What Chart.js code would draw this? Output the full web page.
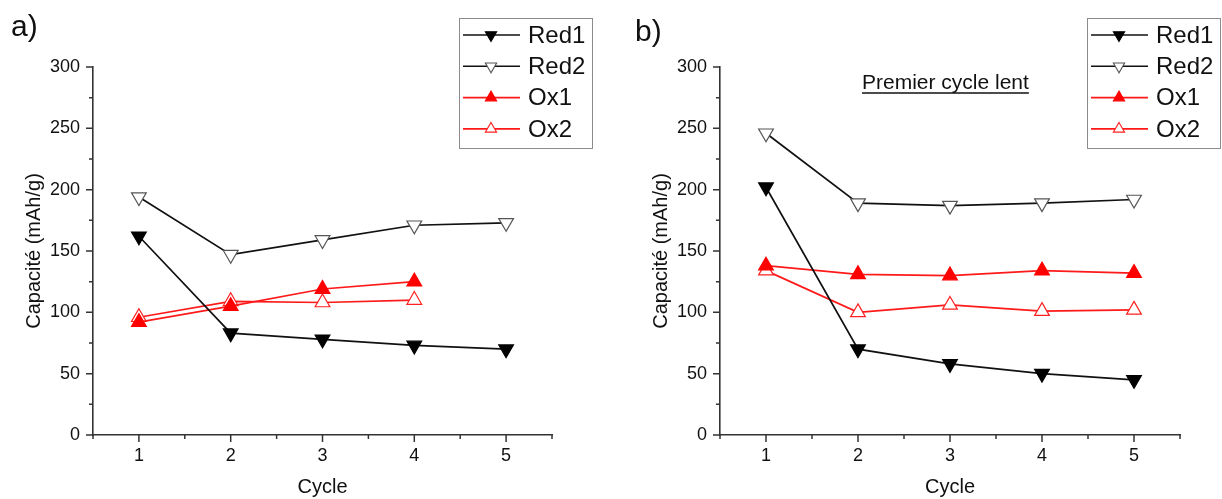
<!DOCTYPE html>
<html>
<head>
<meta charset="utf-8">
<script src="https://cdn.jsdelivr.net/npm/chart.js@4.4.6/dist/chart.umd.min.js"></script>
<style>
  body { margin: 0; background: #fff; }
  #wrap { position: relative; width: 1222px; height: 499px; }
  canvas { position: absolute; top: 0; }
</style>
</head>
<body>
<div id="wrap">
  <canvas id="panelA" width="611" height="499" style="left:0"></canvas>
  <canvas id="panelB" width="611" height="499" style="left:611px"></canvas>
</div>
<script>
// values
const cycles = [1, 2, 3, 4, 5];
const seriesNames = ['Red1', 'Red2', 'Ox1', 'Ox2'];

const red1A = [162, 83, 78, 73, 70];
const red2A = [194, 147, 159, 171, 173];
const ox1A = [92, 105, 119, 125];
const ox2A = [96, 109, 108, 110];

const red1B = [202, 70, 58, 50, 45];
const red2B = [246, 189, 187, 189, 192];
const ox1B = [138, 131, 130, 134, 132];
const ox2B = [134, 100, 106, 101, 102];

const xTickLabels = ['1', '2', '3', '4', '5'];
const yTickLabels = ['0', '50', '100', '150', '200', '250', '300'];

const FONT = "'Liberation Sans', Arial, sans-serif";
const INK = '#111';
const AXIS = '#333';

const looks = {
  Red1: { line: '#111', fill: '#000', edge: '#000', down: true },
  Red2: { line: '#111', fill: '#fff', edge: '#555', down: true },
  Ox1: { line: '#ff1a1a', fill: '#ff0000', edge: '#ff0000', down: false },
  Ox2: { line: '#ff1a1a', fill: '#fff', edge: '#ff2020', down: false }
};

function datasetFor(name, values) {
  const s = looks[name];
  return {
    label: name,
    data: values.map((v, i) => ({ x: cycles[i], y: v })),
    borderColor: s.line,
    borderWidth: 1.7,
    tension: 0,
    pointStyle: 'triangle',
    pointRotation: s.down ? 180 : 0,
    pointRadius: 8.5,
    pointHoverRadius: 8.5,
    pointBackgroundColor: s.fill,
    pointBorderColor: s.edge,
    pointBorderWidth: 1.2
  };
}

function triangle(ctx, cx, cy, r, down, fill, edge) {
  const base = down ? Math.PI / 2 : -Math.PI / 2;
  ctx.beginPath();
  for (let k = 0; k < 3; k++) {
    const a = base + k * 2 * Math.PI / 3;
    const px = cx + Math.cos(a) * r, py = cy + Math.sin(a) * r;
    k ? ctx.lineTo(px, py) : ctx.moveTo(px, py);
  }
  ctx.closePath();
  ctx.fillStyle = fill;
  ctx.fill();
  ctx.strokeStyle = edge;
  ctx.lineWidth = 1.1;
  ctx.stroke();
}

// tick marks (major/minor), framed legend, panel tag and note
const decoPlugin = {
  id: 'deco',
  afterDraw(chart, args, opts) {
    const { ctx } = chart;
    const xs = chart.scales.x, ys = chart.scales.y;
    ctx.save();
    ctx.strokeStyle = AXIS;
    ctx.lineWidth = 1.5;
    ctx.beginPath();
    xs.ticks.forEach(t => {
      const px = xs.getPixelForValue(t.value);
      const len = Number.isInteger(t.value) ? 7 : 4;
      ctx.moveTo(px, xs.top);
      ctx.lineTo(px, xs.top + len);
    });
    ys.ticks.forEach(t => {
      const py = ys.getPixelForValue(t.value);
      const len = t.value % 50 === 0 ? 7 : 4;
      ctx.moveTo(ys.right - len, py);
      ctx.lineTo(ys.right, py);
    });
    ctx.stroke();

    // legend box
    const lg = opts.legend;
    ctx.strokeStyle = '#8c8c8c';
    ctx.lineWidth = 1;
    ctx.strokeRect(lg.x + 0.5, lg.y + 0.5, lg.w, lg.h);
    chart.data.datasets.forEach((ds, i) => {
      const s = looks[ds.label];
      const ry = lg.y + 17 + i * 31.3;
      ctx.strokeStyle = s.line;
      ctx.lineWidth = 1.6;
      ctx.beginPath();
      ctx.moveTo(lg.x + 4, ry);
      ctx.lineTo(lg.x + 61, ry);
      ctx.stroke();
      triangle(ctx, lg.x + 32, ry, 6.5, s.down, s.fill, s.edge);
      ctx.fillStyle = INK;
      ctx.font = `24px ${FONT}`;
      ctx.textBaseline = 'middle';
      ctx.textAlign = 'left';
      ctx.fillText(ds.label, lg.x + 69, ry + 1);
    });

    // panel tag
    ctx.fillStyle = INK;
    ctx.font = `30px ${FONT}`;
    ctx.textBaseline = 'alphabetic';
    ctx.fillText(opts.tag.text, opts.tag.x, opts.tag.y);

    if (opts.note) {
      const n = opts.note;
      ctx.font = `21px ${FONT}`;
      ctx.fillText(n.text, n.x, n.y);
      const w = ctx.measureText(n.text).width;
      ctx.strokeStyle = INK;
      ctx.lineWidth = 1.3;
      ctx.beginPath();
      ctx.moveTo(n.x, n.y + 4);
      ctx.lineTo(n.x + w, n.y + 4);
      ctx.stroke();
    }
    ctx.restore();
  }
};

function makePanel(canvasId, series, padding, deco) {
  const datasets = seriesNames
    .map((name, i) => series[i] ? datasetFor(name, series[i]) : null)
    .filter(Boolean);
  return new Chart(document.getElementById(canvasId), {
    type: 'line',
    data: { datasets },
    plugins: [decoPlugin],
    options: {
      responsive: false,
      animation: false,
      events: [],
      layout: { padding },
      plugins: {
        legend: { display: false },
        tooltip: { enabled: false },
        deco
      },
      scales: {
        x: {
          type: 'linear',
          min: 0.5,
          max: 5.5,
          afterFit: s => { s.height = 64; },
          grid: { display: false, drawTicks: false },
          border: { display: true, color: AXIS, width: 1.6 },
          ticks: {
            stepSize: 0.5,
            autoSkip: false,
            maxRotation: 0,
            padding: 10,
            color: INK,
            font: { family: FONT, size: 18 },
            callback: v => Number.isInteger(v) ? xTickLabels[v - 1] : ''
          },
          title: {
            display: true,
            text: 'Cycle',
            color: INK,
            font: { family: FONT, size: 20 },
            padding: { top: 0, bottom: 0 }
          }
        },
        y: {
          min: 0,
          max: 300,
          afterFit: s => { s.width = 93; },
          grid: { display: false, drawTicks: false },
          border: { display: true, color: AXIS, width: 1.6 },
          ticks: {
            stepSize: 25,
            autoSkip: false,
            padding: 13,
            color: INK,
            font: { family: FONT, size: 18 },
            callback: v => v % 50 === 0 ? yTickLabels[v / 50] : ''
          },
          title: {
            display: true,
            text: 'Capacité (mAh/g)',
            color: INK,
            font: { family: FONT, size: 20 },
            padding: { top: 22, bottom: 0 }
          }
        }
      }
    }
  });
}

makePanel('panelA', [red1A, red2A, ox1A, ox2A],
  { left: 0, top: 67, right: 59, bottom: 0 },
  { legend: { x: 459, y: 18, w: 133, h: 130 }, tag: { text: 'a)', x: 11, y: 36 } });

makePanel('panelB', [red1B, red2B, ox1B, ox2B],
  { left: 16, top: 67, right: 42, bottom: 0 },
  {
    legend: { x: 476, y: 18, w: 133, h: 130 },
    tag: { text: 'b)', x: 24, y: 41 },
    note: { text: 'Premier cycle lent', x: 251, y: 89 }
  });
</script>
</body>
</html>
